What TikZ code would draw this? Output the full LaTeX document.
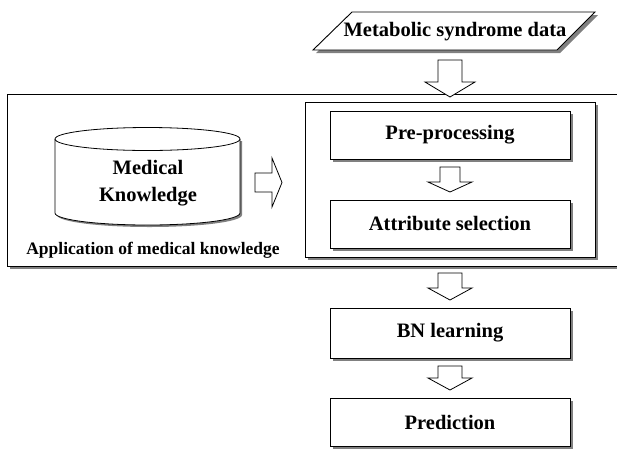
\documentclass[tikz,border=0pt]{standalone}
\usepackage{fontspec}
\setmainfont{Liberation Serif}
\usetikzlibrary{shadows,calc}
\begin{document}
\begin{tikzpicture}[x=1pt,y=-1pt,
  sh/.style={drop shadow={shadow xshift=3pt,shadow yshift=-3pt,fill=black!50,opacity=1}},
  boxstyle/.style={draw=black,line width=0.9pt,fill=white,sh,inner sep=0pt},
  txt/.style={font=\bfseries\fontsize{20.5}{27}\selectfont,align=center},
  blockarr/.style={draw=black,line width=0.8pt,fill=white}
]
\useasboundingbox (0,0) rectangle (617,448);
% big box
\node[draw=black,line width=0.9pt,fill=white,sh,minimum width=625pt,minimum height=172pt,anchor=north west,inner sep=0pt] (big) at (7,94) {};
% data parallelogram
\filldraw[blockarr,line width=0.9pt,sh] (352,12) -- (595,12) -- (557,50) -- (313,50) -- cycle;
\node[txt] (data) at (455,31.5) {Metabolic syndrome data};
% inner box
\node[boxstyle,minimum width=290pt,minimum height=155pt] (inner) at (450,179.5) {};
\node[boxstyle,txt,minimum width=240pt,minimum height=48pt] (pre) at (450,135) {Pre-processing};
\node[boxstyle,txt,minimum width=240pt,minimum height=48pt] (attr) at (450,224) {Attribute selection};
\node[boxstyle,txt,minimum width=240pt,minimum height=50pt] (bn) at (450,333) {BN learning};
\node[boxstyle,txt,minimum width=240pt,minimum height=48pt] (pred) at (450,422) {Prediction};
% cylinder
\path[fill=black!50] (57,141) -- (57,215) .. controls (57,221.63) and (98.41,227) .. (149.5,227) .. controls (200.59,227) and (242,221.63) .. (242,215) -- (242,141) -- cycle;
\filldraw[draw=black,line width=0.8pt,fill=white] (55,139) -- (55,213) .. controls (55,219.63) and (96.41,225) .. (147.5,225) .. controls (198.59,225) and (240,219.63) .. (240,213) -- (240,139) .. controls (240,132.65) and (198.59,127.5) .. (147.5,127.5) .. controls (96.41,127.5) and (55,132.65) .. (55,139) -- cycle;
\draw[line width=0.8pt] (55,139) .. controls (55,145.35) and (96.41,150.5) .. (147.5,150.5) .. controls (198.59,150.5) and (240,145.35) .. (240,139);
\node[txt] (med) at (148,183.5) {Medical\\Knowledge};
\node[font=\bfseries\fontsize{17.5}{20}\selectfont] (app) at (153,250) {Application of medical knowledge};
% block arrows
\filldraw[blockarr] (438,60) -- (462,60) -- (462,82) -- (475,82) -- (450,97) -- (425,82) -- (438,82) -- cycle;
\filldraw[blockarr] (440,167) -- (460,167) -- (460,182) -- (472,182) -- (450,192) -- (428,182) -- (440,182) -- cycle;
\filldraw[blockarr] (438,273) -- (462,273) -- (462,288) -- (472,288) -- (450,300) -- (428,288) -- (438,288) -- cycle;
\filldraw[blockarr] (438,366) -- (462,366) -- (462,378) -- (472,378) -- (450,390) -- (428,378) -- (438,378) -- cycle;
\filldraw[blockarr] (255,173) -- (272,173) -- (272,158) -- (282,182.5) -- (272,207) -- (272,192) -- (255,192) -- cycle;
\end{tikzpicture}
\end{document}
